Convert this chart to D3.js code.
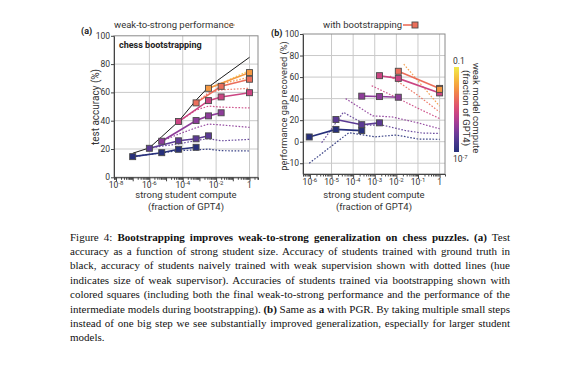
<!DOCTYPE html>
<html><head><meta charset="utf-8">
<script src="https://cdn.jsdelivr.net/npm/d3@7"></script>
<style>html,body{margin:0;padding:0;background:#fff}svg{display:block}</style>
</head><body>
<svg id="chart" width="583" height="371"></svg>
<script>
// ================= DATA =================
// Panel (a): test accuracy (%) vs strong student compute (fraction of GPT4)
const gtCompute  = [1e-7, 1e-6, 5.5e-6, 5.6e-5, 6.3e-4, 3.5e-3, 2.0e-2, 1];
const gtAccuracy = [17.0, 20.8, 28.7, 39.5, 54.5, 63.8, 70.3, 84.8];

// weak supervisor compute of each bootstrapping chain (sets hue)
const chainWeak = [1e-7, 1e-6, 5.5e-6, 5.6e-5, 6.3e-4, 3.5e-3];
const bootComputeA = [
  [1e-7, 5.5e-6, 5.6e-5, 6.3e-4],
  [1e-6, 5.6e-5, 6.3e-4, 3.5e-3],
  [5.5e-6, 6.3e-4, 3.5e-3, 2.0e-2],
  [5.6e-5, 3.5e-3, 2.0e-2, 1],
  [6.3e-4, 2.0e-2, 1],
  [3.5e-3, 1]
];
const bootAccuracy = [
  [14.6, 17.4, 19.8, 21.2],
  [20.5, 25.8, 27.2, 29.3],
  [25.5, 40.1, 43.4, 45.6],
  [39.4, 54.2, 56.8, 59.8],
  [52.6, 64.3, 69.3],
  [62.9, 74.0]
];
// naive weak-to-strong (dotted)
const naiveWeakA = [1e-7, 1e-6, 5.5e-6, 5.6e-5, 6.3e-4, 3.5e-3, 2.0e-2];
const naiveComputeA = [
  [1e-7, 1e-6, 5.5e-6, 5.6e-5, 6.3e-4, 3.5e-3, 2.0e-2, 1],
  [1e-6, 5.5e-6, 5.6e-5, 6.3e-4, 3.5e-3, 2.0e-2, 1],
  [5.5e-6, 5.6e-5, 6.3e-4, 3.5e-3, 2.0e-2, 1],
  [5.6e-5, 6.3e-4, 3.5e-3, 2.0e-2, 1],
  [6.3e-4, 3.5e-3, 2.0e-2, 1],
  [3.5e-3, 2.0e-2, 1],
  [2.0e-2, 1]
];
const naiveAccuracy = [
  [14.6, 16.2, 17.3, 18.8, 19.4, 19.9, 18.8, 18.6],
  [20.5, 22.0, 23.6, 26.0, 27.3, 25.8, 26.8],
  [25.5, 30.5, 35.0, 37.6, 37.0, 35.3],
  [39.4, 47.5, 50.3, 49.6, 49.0],
  [52.6, 59.8, 61.8, 62.9],
  [62.9, 66.0, 70.8],
  [66.5, 75.5]
];

// Panel (b): performance gap recovered (%)
const bootComputeB = [
  [9.3e-7, 1.6e-5, 2.5e-4],
  [1.6e-5, 2.5e-4, 1.66e-3],
  [2.5e-4, 1.66e-3, 1.23e-2],
  [1.66e-3, 1.23e-2, 1],
  [1.23e-2, 1],
  [1]
];
const bootPGR = [
  [4.4, 11.4, 10.3],
  [20.6, 15.8, 17.5],
  [42.3, 41.9, 41.3],
  [61.3, 58.8, 45.3],
  [65.4, 49.5],
  [48.6]
];
const naiveWeakB = [1e-7, 1e-6, 5.5e-6, 5.6e-5, 6.3e-4, 3.5e-3];
const naiveComputeB = [
  [9.3e-7, 6.3e-5, 1e-3, 1e-2, 1e-1, 1],
  [3.5e-6, 3.5e-5, 4e-4, 2.5e-3, 2.5e-2, 1.6e-1, 1],
  [4.5e-5, 8e-4, 6.3e-3, 1e-1, 1],
  [7.2e-4, 1.26e-2, 1e-1, 1],
  [5e-3, 1e-1, 1],
  [2.2e-2, 1]
];
const naivePGR = [
  [-10, 8.3, 4.5, 6.2, 2.5, 2.2],
  [-0.5, 27.3, 15.5, 15.2, 10.5, 8.0, 7.7],
  [40, 24, 23, 17.5, 12],
  [52, 40, 31, 21.5],
  [61, 43, 27.6],
  [72, 33]
];

// tick labels
const yTicksA = [0, 20, 40, 60, 80, 100];
const xExpA = [-8, -6, -4, -2, 0];
const yTicksB = [-10, 0, 20, 40, 60, 80, 100];
const xExpB = [-6, -5, -4, -3, -2, -1, 0];

const captionLines = [
  [["Figure 4: ", 0], ["Bootstrapping improves weak-to-strong generalization on chess puzzles.", 1], [" ", 0], ["(a)", 1], [" Test", 0]],
  [["accuracy as a function of strong student size. Accuracy of students trained with ground truth in", 0]],
  [["black, accuracy of students naively trained with weak supervision shown with dotted lines (hue", 0]],
  [["indicates size of weak supervisor). Accuracies of students trained via bootstrapping shown with", 0]],
  [["colored squares (including both the final weak-to-strong performance and the performance of the", 0]],
  [["intermediate models during bootstrapping). ", 0], ["(b)", 1], [" Same as ", 0], ["a", 1], [" with PGR. By taking multiple small steps", 0]],
  [["instead of one big step we see substantially improved generalization, especially for larger student", 0]],
  [["models.", 0]]
];

// ================= DRAWING =================
const svg = d3.select("#chart");
const FONT = "Roboto, 'Noto Sans', sans-serif";
const TXT = "#333";
const TICK_FS = 8.5;
const cmap = d3.interpolateRgbBasis(["#27307b","#4a3a90","#7b3b9d","#b23d93","#d9477a","#ec6a5b","#f5963f","#f6c13c","#f1ea4b"]);
const tScale = d3.scaleLog().domain([1e-7, 1e-1]).range([0, 1]).clamp(true);
const wcol = w => cmap(tScale(w));

const xA = d3.scaleLog().domain([10 ** -8.12, 10 ** 0.51]).range([114, 258]);
const yA = d3.scaleLinear().domain([0, 100]).range([177.3, 35.8]);
const xB = d3.scaleLog().domain([10 ** -6.32, 10 ** 0.25]).range([303, 445]);
const yB = d3.scaleLinear().domain([-15, 0, 100]).range([174, 141.7, 34]);

function minorVals(scale) {
  const [d0, d1] = scale.domain(); const out = [];
  for (let e = Math.floor(Math.log10(d0)); e <= Math.ceil(Math.log10(d1)); e++)
    for (let k = 1; k < 10; k++) { const v = k * 10 ** e; if (v >= d0 && v <= d1) out.push(v); }
  return out;
}

function frame(x, y, xGrid, yGrid, yTicks, xExps, yLabelX) {
  const [px0, px1] = x.range(); const py1 = y.range()[0], py0 = y.range()[y.range().length - 1];
  const g = svg.append("g");
  g.selectAll(".vg").data(xGrid).join("line")
    .attr("x1", d => x(d)).attr("x2", d => x(d)).attr("y1", py0).attr("y2", py1)
    .attr("stroke", "#c9c9c9").attr("stroke-width", 1);
  g.selectAll(".hg").data(yGrid).join("line")
    .attr("x1", px0).attr("x2", px1).attr("y1", d => y(d)).attr("y2", d => y(d))
    .attr("stroke", "#c9c9c9").attr("stroke-width", 1);
  g.append("rect").attr("x", px0).attr("y", py0).attr("width", px1 - px0).attr("height", py1 - py0)
    .attr("fill", "none").attr("stroke", "#8a8a8a").attr("stroke-width", 1);
  const ax = d3.axisBottom(x).tickValues(minorVals(x)).tickFormat("").tickSizeOuter(0).tickSize(2.5);
  const axg = g.append("g").attr("transform", `translate(0,${py1})`).call(ax);
  axg.select(".domain").attr("stroke", "#444");
  axg.selectAll(".tick line").attr("stroke", "#444").attr("y2", d => Math.abs(Math.log10(d) % 1) < 1e-9 ? 4 : 2.5);
  const ayg = g.append("g").attr("transform", `translate(${px0},0)`)
    .call(d3.axisLeft(y).tickValues(yTicks).tickFormat("").tickSize(3).tickSizeOuter(0));
  ayg.select(".domain").attr("stroke", "#444");
  ayg.selectAll(".tick line").attr("stroke", "#444");
  g.selectAll(".yl").data(yTicks).join("text")
    .attr("x", yLabelX).attr("y", d => y(d) + 3).attr("text-anchor", "end")
    .attr("font-family", FONT).attr("font-size", TICK_FS).attr("fill", TXT).text(d => d);
  xExps.forEach(e => {
    const t = g.append("text").attr("x", x(10 ** e)).attr("y", py1 + 11).attr("text-anchor", "middle")
      .attr("font-family", FONT).attr("font-size", TICK_FS).attr("fill", TXT);
    if (e === 0) t.text("1");
    else { t.append("tspan").text("10"); t.append("tspan").attr("dy", -3.2).attr("font-size", 6).text(String(e)); }
  });
  return g;
}

const line = (x, y) => d3.line().x(d => x(d[0])).y(d => y(d[1]));

function drawSeries(x, y, naiveC, naiveV, naiveW, bootC, bootV, gt) {
  const g = svg.append("g");
  const lA = line(x, y);
  naiveC.forEach((c, i) => {
    g.append("path").attr("d", lA(c.map((v, j) => [v, naiveV[i][j]])))
      .attr("fill", "none").attr("stroke", wcol(naiveW[i])).attr("stroke-width", 1.2)
      .attr("stroke-dasharray", "1.6,1.6").attr("opacity", 0.9);
  });
  if (gt) g.append("path").attr("d", lA(gt[0].map((v, j) => [v, gt[1][j]])))
    .attr("fill", "none").attr("stroke", "#1a1a1a").attr("stroke-width", 1);
  bootC.forEach((c, i) => {
    g.append("path").attr("d", lA(c.map((v, j) => [v, bootV[i][j]])))
      .attr("fill", "none").attr("stroke", wcol(chainWeak[i])).attr("stroke-width", 1.6);
  });
  bootC.forEach((c, i) => {
    g.selectAll(null).data(c.map((v, j) => [v, bootV[i][j]])).join("rect")
      .attr("x", d => x(d[0]) - 3).attr("y", d => y(d[1]) - 3).attr("width", 6).attr("height", 6)
      .attr("fill", wcol(chainWeak[i])).attr("stroke", "#4a4a4a").attr("stroke-width", 0.9);
  });
}

// Panel (a)
frame(xA, yA, [1e-6, 1e-4, 1e-2, 1], [20, 40, 60, 80], yTicksA, xExpA, 110);
drawSeries(xA, yA, naiveComputeA, naiveAccuracy, naiveWeakA, bootComputeA, bootAccuracy, [gtCompute, gtAccuracy]);
svg.append("text").attr("x", 119).attr("y", 47.5).attr("font-family", FONT).attr("font-size", 9)
  .attr("font-weight", "bold").attr("fill", "#222").text("chess bootstrapping");

// Panel (b)
frame(xB, yB, [1e-5, 1e-4, 1e-3, 1e-2, 1e-1, 1], [-10, 0, 20, 40, 60, 80], yTicksB, xExpB, 299);
drawSeries(xB, yB, naiveComputeB, naivePGR, naiveWeakB, bootComputeB, bootPGR, null);

// panel letters
svg.append("text").attr("x", 81).attr("y", 34).attr("font-family", FONT).attr("font-size", 9)
  .attr("font-weight", "bold").attr("fill", "#222").text("(a)");
svg.append("text").attr("x", 271).attr("y", 36).attr("font-family", FONT).attr("font-size", 9)
  .attr("font-weight", "bold").attr("fill", "#222").text("(b)");

function label(x, y, txt, rot, size) {
  svg.append("text").attr("transform", `translate(${x},${y})` + (rot ? ` rotate(${rot})` : ""))
    .attr("text-anchor", "middle").attr("font-family", FONT).attr("font-size", size || 9.5)
    .attr("fill", TXT).text(txt);
}
label(98.5, 107, "test accuracy (%)", -90, 10);
label(287, 106, "performance gap recovered (%)", -90, 9.3);
label(186, 198, "strong student compute");
label(186, 210, "(fraction of GPT4)");
label(374, 198, "strong student compute");
label(374, 210, "(fraction of GPT4)");

// legends
svg.append("text").attr("x", 114).attr("y", 28).attr("font-family", FONT).attr("font-size", 9.5)
  .attr("fill", TXT).text("weak-to-strong performance");
svg.append("line").attr("x1", 224).attr("x2", 235).attr("y1", 25).attr("y2", 25)
  .attr("stroke", wcol(3.5e-3)).attr("stroke-width", 1.2).attr("stroke-dasharray", "1.6,1.6");
svg.append("text").attr("x", 323).attr("y", 28).attr("font-family", FONT).attr("font-size", 9.5)
  .attr("fill", TXT).text("with bootstrapping");
svg.append("line").attr("x1", 403).attr("x2", 415).attr("y1", 25).attr("y2", 25)
  .attr("stroke", wcol(6.3e-4)).attr("stroke-width", 1.6);
svg.append("rect").attr("x", 412).attr("y", 22).attr("width", 6).attr("height", 6)
  .attr("fill", wcol(6.3e-4)).attr("stroke", "#4a4a4a").attr("stroke-width", 0.9);

// colorbar
const defs = svg.append("defs");
const grad = defs.append("linearGradient").attr("id", "cb").attr("x1", 0).attr("y1", 1).attr("x2", 0).attr("y2", 0);
d3.range(0, 1.0001, 0.05).forEach(t => grad.append("stop").attr("offset", t).attr("stop-color", cmap(t)));
svg.append("rect").attr("x", 454).attr("y", 67).attr("width", 5).attr("height", 85).attr("fill", "url(#cb)");
svg.append("text").attr("x", 453).attr("y", 64).attr("font-family", FONT).attr("font-size", TICK_FS)
  .attr("fill", TXT).text("0.1");
const t7 = svg.append("text").attr("x", 453).attr("y", 162).attr("font-family", FONT).attr("font-size", TICK_FS).attr("fill", TXT);
t7.append("tspan").text("10"); t7.append("tspan").attr("dy", -3.2).attr("font-size", 6).text("-7");
label(472.5, 108, "weak model compute", 90, 9.5);
label(463, 108, "(fraction of GPT4)", 90, 9.5);

// caption (justified)
const CAP_X = 70, CAP_W = 440;
captionLines.forEach((parts, i) => {
  const t = svg.append("text").attr("x", CAP_X).attr("y", 240.5 + i * 14.4)
    .attr("font-family", "'Liberation Serif', 'Times New Roman', serif").attr("font-size", 11).attr("fill", "#111");
  parts.forEach(([s, b]) => t.append("tspan").attr("font-weight", b ? "bold" : "normal").text(s));
  if (i < captionLines.length - 1) {
    const len = t.node().getComputedTextLength();
    const spaces = parts.map(p => p[0]).join("").split(" ").length - 1;
    t.attr("word-spacing", (CAP_W - len) / spaces);
  }
});
</script>
</body></html>
